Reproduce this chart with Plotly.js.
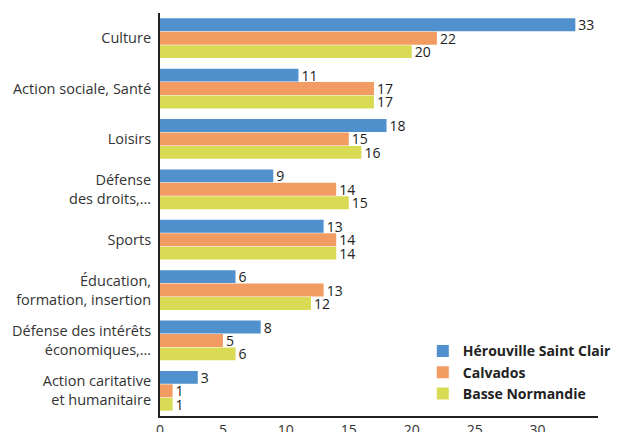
<!DOCTYPE html>
<html><head><meta charset="utf-8">
<script src="https://cdn.plot.ly/plotly-3.0.1.min.js"></script>
<style>body{margin:0;padding:0;background:#fff}#chart{width:617px;height:432px}</style>
</head><body><div id="chart"></div>
<script>
const categories = ["Culture","Action sociale, Santé","Loisirs","Défense<br>des droits,…","Sports","Éducation,<br>formation, insertion","Défense des intérêts<br>économiques,…","Action caritative<br>et humanitaire"];
const herouville = [33, 11, 18, 9, 13, 6, 8, 3];
const calvados = [22, 17, 15, 14, 14, 13, 5, 1];
const basseNormandie = [20, 17, 16, 15, 14, 12, 6, 1];
const seriesNames = ["Hérouville Saint Clair", "Calvados", "Basse Normandie"];
const colors = ["#4F90CD", "#F29B62", "#DADB55"];
const xTicks = [0, 5, 10, 15, 20, 25, 30];

const all = [herouville, calvados, basseNormandie];
const traces = all.map((vals, i) => ({
  type: 'bar', orientation: 'h',
  x: vals, y: categories, name: seriesNames[i],
  marker: {color: colors[i]},
  text: vals.map(String), textposition: 'outside', constraintext: 'none',
  textfont: {family: 'Open Sans, sans-serif', size: 14, color: '#222'},
  cliponaxis: false,
  hoverinfo: 'none'
}));

const layout = {
  width: 617, height: 432,
  margin: {l: 160, r: 0, t: 13, b: 16, pad: 0},
  paper_bgcolor: '#fff', plot_bgcolor: '#fff',
  barmode: 'group', bargap: 0.2, bargroupgap: 0.04,
  font: {family: 'Open Sans, sans-serif', size: 14, color: '#333'},
  showlegend: true,
  legend: {x: 0.6, y: 0.2, xanchor: 'left', yanchor: 'top',
    font: {family: 'Open Sans, sans-serif', size: 14, color: '#222', weight: 'bold'},
    bgcolor: 'rgba(0,0,0,0)', tracegroupgap: 0, itemwidth: 30},
  xaxis: {range: [0, 34.8], tickvals: xTicks, showgrid: false, zeroline: false,
    showline: true, linecolor: '#222', linewidth: 2, ticks: '',
    tickfont: {size: 14, color: '#333'}, fixedrange: true},
  yaxis: {autorange: 'reversed', showgrid: false, zeroline: false,
    showline: true, linecolor: '#222', linewidth: 2, ticks: '', ticklabelstandoff: 4,
    tickfont: {size: 14.5, color: '#333'}, fixedrange: true}
};
Plotly.newPlot('chart', traces, layout, {displayModeBar: false, staticPlot: true});
</script></body></html>
